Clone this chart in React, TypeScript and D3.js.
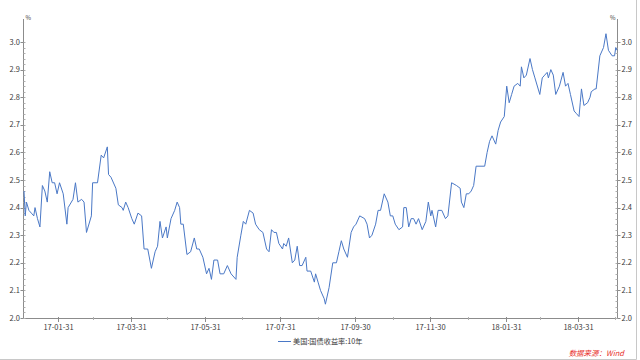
import React from 'react';
import * as d3 from 'd3';

const startDate = new Date(2017, 0, 3);
const endDate = new Date(2018, 4, 2);

// calendar-day offsets from 2017-01-03
const dayOffsets = [
  0, 1, 2, 4, 6, 8, 9, 11, 13, 15, 17, 19, 21, 23, 25, 27, 29, 32, 35, 36,
  40, 42, 44, 47, 49, 51, 55, 56, 60, 63, 65, 68, 69, 71, 75, 77, 80, 81, 83, 85,
  88, 90, 93, 96, 98, 101, 104, 107, 109, 111, 113, 116, 117, 120, 123, 125, 127, 128, 130, 133,
  136, 139, 141, 143, 146, 149, 151, 153, 155, 158, 160, 163, 166, 169, 173, 174, 177, 179, 181, 184,
  187, 189, 192, 195, 198, 200, 202, 204, 206, 208, 211, 212, 214, 216, 219, 221, 223, 225, 227, 230,
  231, 234, 237, 238, 240, 242, 245, 246, 249, 252, 255, 257, 259, 261, 264, 267, 269, 271, 274, 278,
  280, 282, 284, 287, 289, 291, 294, 297, 299, 301, 303, 306, 309, 310, 312, 314, 316, 318, 320, 322,
  325, 328, 330, 332, 333, 336, 338, 341, 344, 346, 349, 353, 356, 357, 359, 361, 363, 365, 367, 369,
  373, 376, 378, 380, 382, 385, 387, 389, 392, 394, 396, 398, 400, 403, 405, 406, 408, 410, 413, 415,
  417, 421, 423, 425, 427, 428, 430, 432, 434, 437, 440, 442, 444, 446, 449, 451, 453, 454, 455, 457,
  460, 462, 463, 466, 467, 470, 473, 475, 477, 480, 482, 483, 484,
];

const yields = [
  2.46, 2.37, 2.42, 2.39, 2.38, 2.37, 2.40, 2.36, 2.33, 2.48, 2.46, 2.42, 2.53, 2.49, 2.49, 2.45, 2.49, 2.45, 2.34, 2.40,
  2.43, 2.49, 2.42, 2.43, 2.42, 2.31, 2.37, 2.49, 2.49, 2.59, 2.58, 2.62, 2.52, 2.51, 2.47, 2.41, 2.40, 2.39, 2.42, 2.40,
  2.36, 2.34, 2.38, 2.37, 2.25, 2.25, 2.18, 2.24, 2.26, 2.35, 2.29, 2.33, 2.29, 2.36, 2.39, 2.42, 2.40, 2.34, 2.34, 2.23,
  2.24, 2.29, 2.25, 2.25, 2.22, 2.16, 2.18, 2.14, 2.21, 2.21, 2.16, 2.16, 2.19, 2.16, 2.14, 2.22, 2.30, 2.35, 2.34, 2.39,
  2.38, 2.34, 2.32, 2.31, 2.25, 2.24, 2.32, 2.31, 2.31, 2.27, 2.25, 2.27, 2.26, 2.29, 2.20, 2.21, 2.26, 2.19, 2.19, 2.22,
  2.17, 2.17, 2.13, 2.16, 2.13, 2.10, 2.07, 2.05, 2.11, 2.20, 2.20, 2.24, 2.28, 2.25, 2.22, 2.31, 2.33, 2.34, 2.37, 2.36,
  2.34, 2.29, 2.30, 2.34, 2.39, 2.39, 2.45, 2.42, 2.37, 2.37, 2.34, 2.32, 2.33, 2.40, 2.40, 2.33, 2.36, 2.36, 2.34, 2.36,
  2.32, 2.35, 2.42, 2.37, 2.39, 2.33, 2.39, 2.39, 2.36, 2.37, 2.49, 2.48, 2.47, 2.42, 2.40, 2.45, 2.45, 2.46, 2.48, 2.55,
  2.55, 2.55, 2.60, 2.64, 2.66, 2.63, 2.68, 2.71, 2.73, 2.84, 2.78, 2.81, 2.84, 2.85, 2.84, 2.91, 2.87, 2.88, 2.94, 2.90,
  2.87, 2.81, 2.87, 2.88, 2.89, 2.87, 2.90, 2.88, 2.81, 2.84, 2.89, 2.84, 2.85, 2.81, 2.75, 2.74, 2.73, 2.78, 2.83, 2.77,
  2.78, 2.80, 2.82, 2.83, 2.83, 2.95, 2.98, 3.03, 2.97, 2.95, 2.95, 2.98, 2.97,
];

const majorTickDates = ['2017-01-31', '2017-03-31', '2017-05-31', '2017-07-31', '2017-09-30', '2017-11-30', '2018-01-31', '2018-03-31'];
const minorTickDates = ['2017-02-28', '2017-04-30', '2017-06-30', '2017-08-31', '2017-10-31', '2017-12-31', '2018-02-28', '2018-04-30'];
const yTickValues = [2.0, 2.1, 2.2, 2.3, 2.4, 2.5, 2.6, 2.7, 2.8, 2.9, 3.0];
const seriesName = '美国:国债收益率:10年';
const unitLabel = '%';
const sourceText = '数据来源：Wind';

const W = 640;
const H = 360;
const left = 23.5;
const right = 617.5;
const top = 42;
const bottom = 318;
const FONT = "'Noto Sans CJK SC', 'Liberation Sans', sans-serif";
const AXIS = '#8c8c8c';
const TEXT = '#3a3a3a';

const parse = d3.timeParse('%Y-%m-%d');
const fmt = d3.timeFormat('%y-%m-%d');

export default function App() {
  const x = d3.scaleTime().domain([startDate, endDate]).range([24, 617]);
  const y = d3.scaleLinear().domain([2.0, 3.0]).range([bottom, top]);
  const data = dayOffsets.map((d, i) => ({ date: d3.timeDay.offset(startDate, d), v: yields[i] }));
  const line = d3.line<{ date: Date; v: number }>().x((d) => x(d.date)).y((d) => y(d.v));
  const minorY = d3.range(0, 51).map((i) => 2.0 + i * 0.02);

  return (
    <svg width={W} height={H} style={{ position: 'absolute', left: 0, top: 0, background: '#fff' }} fontFamily={FONT}>
      <rect x={0} y={0} width={W} height={H} fill="#fff" />
      {/* frame */}
      <line x1={0} x2={636.5} y1={359.5} y2={359.5} stroke="#c8c8c8" />
      <line x1={636.5} x2={636.5} y1={0} y2={359.5} stroke="#c8c8c8" />

      {/* axes lines */}
      <line x1={left} x2={left} y1={19} y2={bottom} stroke={AXIS} />
      <line x1={right} x2={right} y1={19} y2={bottom} stroke={AXIS} />
      <line x1={left} x2={right} y1={bottom + 0.5} y2={bottom + 0.5} stroke={AXIS} />

      {/* y minor ticks */}
      {minorY.map((v, i) => (
        <g key={'my' + i}>
          <line x1={left} x2={left + 2} y1={Math.round(y(v)) + 0.5} y2={Math.round(y(v)) + 0.5} stroke="#b0b0b0" />
          <line x1={right - 2} x2={right} y1={Math.round(y(v)) + 0.5} y2={Math.round(y(v)) + 0.5} stroke="#b0b0b0" />
        </g>
      ))}
      {/* y major ticks + labels */}
      {yTickValues.map((v) => (
        <g key={'y' + v}>
          <line x1={left - 3} x2={left} y1={Math.round(y(v)) + 0.5} y2={Math.round(y(v)) + 0.5} stroke={AXIS} />
          <line x1={right} x2={right + 3} y1={Math.round(y(v)) + 0.5} y2={Math.round(y(v)) + 0.5} stroke={AXIS} />
          <text x={left - 3.5} y={y(v)} dy="0.35em" textAnchor="end" fontSize={7.5} fill={TEXT}>
            {v.toFixed(1)}
          </text>
          <text x={right + 4} y={y(v)} dy="0.35em" textAnchor="start" fontSize={7.5} fill={TEXT}>
            {v.toFixed(1)}
          </text>
        </g>
      ))}
      <text x={left + 2} y={20} fontSize={6} fill={TEXT}>{unitLabel}</text>
      <text x={right - 2} y={20} fontSize={6} fill={TEXT} textAnchor="end">{unitLabel}</text>

      {/* x ticks */}
      {minorTickDates.map((s) => {
        const px = Math.round(x(parse(s)!)) + 0.5;
        return <line key={'mx' + s} x1={px} x2={px} y1={bottom - 1} y2={bottom + 2} stroke="#b0b0b0" />;
      })}
      {majorTickDates.map((s) => {
        const d = parse(s)!;
        const px = Math.round(x(d)) + 0.5;
        return (
          <g key={'x' + s}>
            <line x1={px} x2={px} y1={bottom - 1} y2={bottom + 4} stroke={AXIS} />
            <text x={px} y={330} textAnchor="middle" fontSize={7.5} fill={TEXT}>
              {fmt(d)}
            </text>
          </g>
        );
      })}

      {/* series */}
      <path d={line(data) || ''} fill="none" stroke="#4a78c6" strokeWidth={1} strokeLinejoin="round" />

      {/* legend */}
      <line x1={278} x2={291} y1={341.5} y2={341.5} stroke="#4a78c6" />
      <text x={293} y={344} fontSize={7.2} fill={TEXT}>{seriesName}</text>

      {/* source */}
      <text x={624} y={356} textAnchor="end" fontSize={7.5} fill="#e8302c" fontStyle="italic">
        {sourceText}
      </text>
    </svg>
  );
}
